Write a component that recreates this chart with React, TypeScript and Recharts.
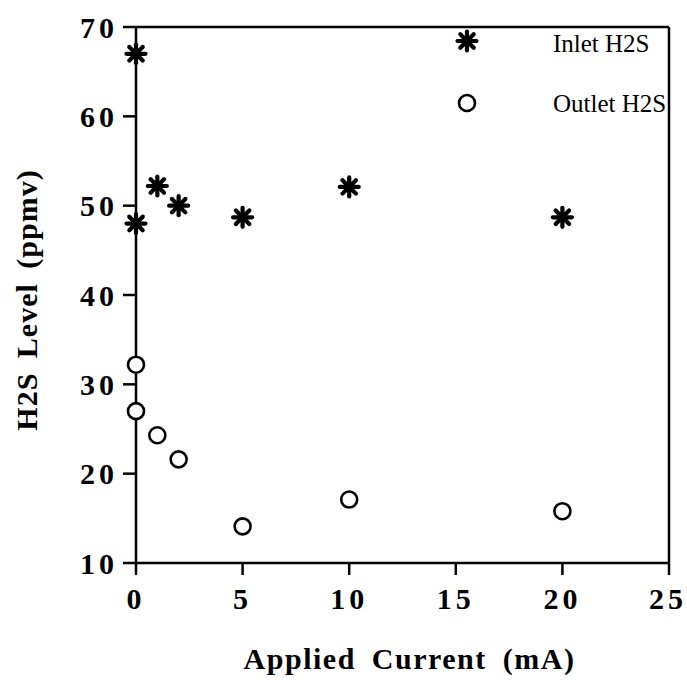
import React from "react";
import { ScatterChart, Scatter, XAxis, YAxis, ReferenceLine } from "recharts";

// Valeurs (courant appliqué en mA, niveau H2S en ppmv)
const inletCurrent = [0, 0, 1, 2, 5, 10, 20];
const inletLevel = [67, 48, 52.2, 50, 48.7, 52.1, 48.7];
const outletCurrent = [0, 0, 1, 2, 5, 10, 20];
const outletLevel = [32.2, 27, 24.3, 21.6, 14.1, 17.1, 15.8];
const xTicks = [0, 5, 10, 15, 20, 25];
const yTicks = [10, 20, 30, 40, 50, 60, 70];
const seriesNames = ["Inlet H2S", "Outlet H2S"];

const inlet = inletCurrent.map((x, i) => ({ x, y: inletLevel[i] }));
const outlet = outletCurrent.map((x, i) => ({ x, y: outletLevel[i] }));

const FONT = "'Liberation Serif', 'Times New Roman', serif";

function Star({ cx, cy, size = 9.5 }: { cx: number; cy: number; size?: number }) {
  const arms = [0, 45, 90, 135].map((a) => {
    const r = (a * Math.PI) / 180;
    const dx = Math.cos(r) * size;
    const dy = Math.sin(r) * size;
    return (
      <line
        key={a}
        x1={cx - dx}
        y1={cy - dy}
        x2={cx + dx}
        y2={cy + dy}
        stroke="#000"
        strokeWidth={4.2}
        strokeLinecap="round"
      />
    );
  });
  return <g>{arms}</g>;
}

function Ring({ cx, cy }: { cx: number; cy: number }) {
  return <circle cx={cx} cy={cy} r={8} fill="#fff" stroke="#000" strokeWidth={2.6} />;
}

const starShape = (p: any) => <Star cx={p.cx} cy={p.cy} />;
const ringShape = (p: any) => <Ring cx={p.cx} cy={p.cy} />;

// légende posée à la main dans le coin haut droit du cadre
function LegendBox() {
  return (
    <svg
      width={240}
      height={90}
      style={{ position: "absolute", left: 447, top: 20, overflow: "visible" }}
    >
      <Star cx={20} cy={21} />
      <text x={106} y={23} dy="0.35em" fontFamily={FONT} fontSize={25} fill="#000">
        {seriesNames[0]}
      </text>
      <Ring cx={20} cy={83} />
      <text x={106} y={83} dy="0.35em" fontFamily={FONT} fontSize={25} fill="#000">
        {seriesNames[1]}
      </text>
    </svg>
  );
}

const tickStyle = {
  fontFamily: FONT,
  fontSize: 30,
  fontWeight: "bold" as const,
  fill: "#000",
  letterSpacing: 4,
};

export default function App() {
  return (
    <div style={{ position: "absolute", left: 0, top: 0, background: "#fff" }}>
      <ScatterChart
        width={687}
        height={683}
        margin={{ top: 27, right: 18, bottom: 0, left: 0 }}
      >
        <XAxis
          type="number"
          dataKey="x"
          domain={[0, 25]}
          ticks={xTicks}
          height={120}
          tickSize={12}
          tickMargin={13}
          stroke="#000"
          strokeWidth={2.5}
          tick={tickStyle}
          label={(props: any) => {
            const vb = props.viewBox;
            return (
              <text
                x={vb.x + vb.width / 2 + 7}
                y={vb.y + 106}
                textAnchor="middle"
                fill="#000"
                fontFamily={FONT}
                fontSize={30}
                fontWeight="bold"
                letterSpacing={1.5}
                wordSpacing={7}
              >
                Applied Current (mA)
              </text>
            );
          }}
        />
        <YAxis
          type="number"
          dataKey="y"
          domain={[10, 70]}
          ticks={yTicks}
          width={136}
          tickSize={13}
          tickMargin={5}
          stroke="#000"
          strokeWidth={2.5}
          tick={tickStyle}
          label={() => (
            <text
              x={26}
              y={300}
              transform="rotate(-90 26 300)"
              textAnchor="middle"
              dy="0.35em"
              fill="#000"
              fontFamily={FONT}
              fontSize={30}
              fontWeight="bold"
              letterSpacing={1}
              wordSpacing={6}
            >
              H2S Level (ppmv)
            </text>
          )}
        />
        <ReferenceLine y={70} stroke="#000" strokeWidth={2.5} ifOverflow="visible" />
        <ReferenceLine x={25} stroke="#000" strokeWidth={2.5} ifOverflow="visible" />
        <Scatter
          name={seriesNames[0]}
          data={inlet}
          shape={starShape}
          isAnimationActive={false}
        />
        <Scatter
          name={seriesNames[1]}
          data={outlet}
          shape={ringShape}
          isAnimationActive={false}
        />
      </ScatterChart>
      <LegendBox />
    </div>
  );
}
